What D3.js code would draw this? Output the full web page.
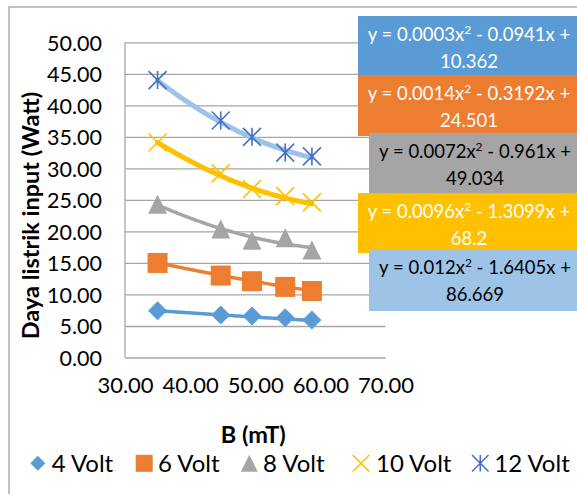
<!DOCTYPE html>
<html>
<head>
<meta charset="utf-8">
<script src="https://cdn.jsdelivr.net/npm/d3@7"></script>
<style>
  html, body { margin: 0; padding: 0; background: #fff; }
  svg { display: block; font-family: Lato, "Liberation Sans", sans-serif; }
</style>
</head>
<body>
<svg id="chart" width="577" height="494"></svg>
<script>
// ---------------- data ----------------
const bValues = [35.0, 44.7, 49.5, 54.6, 58.7];           // B (mT)
const volt4  = [7.42, 6.74, 6.58, 6.31, 5.95];
const volt6  = [15.0, 13.0, 12.1, 11.2, 10.55];
const volt8  = [24.3, 20.4, 18.6, 19.0, 17.05];
const volt10 = [34.1, 29.2, 26.7, 25.6, 24.6];
const volt12 = [44.0, 37.6, 35.0, 32.5, 31.9];
const seriesNames = ["4 Volt", "6 Volt", "8 Volt", "10 Volt", "12 Volt"];
const xTickValues = [30, 40, 50, 60, 70];
const yTickValues = [0, 5, 10, 15, 20, 25, 30, 35, 40, 45, 50];
// polynomial trendline coefficients [a, b, c] : y = a x^2 + b x + c
const trend4  = [0.0003, -0.0941, 10.362];
const trend6  = [0.0014, -0.3192, 24.501];
const trend8  = [0.0072, -0.961, 49.034];
const trend10 = [0.0096, -1.3099, 68.2];
const trend12 = [0.012, -1.6405, 86.669];
const eqPartA = ["y = 0.0003x", "y = 0.0014x", "y = 0.0072x", "y = 0.0096x", "y = 0.012x"];
const eqPartB = [" - 0.0941x +", " - 0.3192x +", " - 0.961x +", " - 1.3099x +", " - 1.6405x +"];
const eqLine2 = ["10.362", "24.501", "49.034", "68.2", "86.669"];

// ---------------- styles / layout ----------------
const seriesData = [volt4, volt6, volt8, volt10, volt12];
const trends = [trend4, trend6, trend8, trend10, trend12];
const markerColor = ["#5B9BD5", "#ED7D31", "#A5A5A5", "#FFC000", "#4472C4"];
const trendColor  = ["#5B9BD5", "#ED7D31", "#A5A5A5", "#FFC000", "#9DC3E6"];
const trendWidth  = [3.5, 3.5, 3.5, 5, 5];
const markerType  = ["diamond", "square", "triangle", "x", "star"];
const boxFill     = ["#5B9BD5", "#ED7D31", "#A5A5A5", "#FFC000", "#9DC3E6"];
const boxText     = ["#ffffff", "#ffffff", "#000000", "#ffffff", "#000000"];
const boxRect     = [[358, 16, 224, 59], [358, 75, 224, 61], [369, 133, 213, 60], [358, 193, 224, 60], [369, 249, 213, 62]];

const svg = d3.select("#chart");
const x = d3.scaleLinear().domain([30, 70]).range([125, 385.5]);
const y = d3.scaleLinear().domain([0, 50]).range([357.5, 42.3]);

// chart border
svg.append("rect").attr("x", 9).attr("y", 7).attr("width", 700).attr("height", 700)
  .attr("fill", "none").attr("stroke", "#AFAFAF").attr("stroke-width", 1.5);

// gridlines
const gGrid = svg.append("g")
  .attr("transform", `translate(${x.range()[0]},0)`)
  .call(d3.axisLeft(y).tickValues(yTickValues).tickSize(-(x.range()[1] - x.range()[0])).tickFormat(""));
gGrid.select(".domain").remove();
gGrid.selectAll(".tick line").attr("stroke", "#A6A6A6").attr("stroke-width", 1.3);

// left axis line
svg.append("line").attr("x1", x(30)).attr("x2", x(30)).attr("y1", y(50)).attr("y2", y(0))
  .attr("stroke", "#A6A6A6").attr("stroke-width", 1.3);

// y tick labels
const gY = svg.append("g").attr("transform", `translate(${x.range()[0]},0)`)
  .call(d3.axisLeft(y).tickValues(yTickValues).tickSize(0).tickPadding(23).tickFormat(d3.format(".2f")));
gY.select(".domain").remove();
gY.selectAll("text").attr("font-family", "Lato, sans-serif").attr("font-size", 21.5).attr("fill", "#000")
  .attr("dy", "0.36em");

// x tick labels
const gX = svg.append("g").attr("transform", `translate(0,${y(0)})`)
  .call(d3.axisBottom(x).tickValues(xTickValues).tickSize(0).tickPadding(20).tickFormat(d3.format(".2f")));
gX.select(".domain").remove();
gX.selectAll("text").attr("font-family", "Lato, sans-serif").attr("font-size", 22).attr("fill", "#000");

// axis titles
svg.append("text").attr("x", x(50) - 2).attr("y", 443).attr("text-anchor", "middle")
  .attr("font-size", 23.5).attr("font-weight", "bold").text("B (mT)");
svg.append("text").attr("transform", "translate(38.5,215.5) rotate(-90)").attr("text-anchor", "middle")
  .attr("font-size", 23.5).attr("font-weight", "bold").text("Daya listrik input (Watt)");

// marker path generator
function markerPath(type, s) {
  const h = s / 2;
  const p = d3.path();
  if (type === "diamond") { p.moveTo(0, -h); p.lineTo(h, 0); p.lineTo(0, h); p.lineTo(-h, 0); p.closePath(); }
  else if (type === "square") { p.rect(-h, -h, s, s); }
  else if (type === "triangle") { p.moveTo(0, -h); p.lineTo(h, h); p.lineTo(-h, h); p.closePath(); }
  else if (type === "x") { p.moveTo(-h, -h); p.lineTo(h, h); p.moveTo(h, -h); p.lineTo(-h, h); }
  else if (type === "star") { p.moveTo(-h, -h); p.lineTo(h, h); p.moveTo(h, -h); p.lineTo(-h, h); p.moveTo(0, -h); p.lineTo(0, h); }
  return p.toString();
}
function styleMarker(sel, i) {
  const t = markerType[i];
  if (t === "x" || t === "star") sel.attr("fill", "none").attr("stroke", markerColor[i]).attr("stroke-width", 1.6);
  else sel.attr("fill", markerColor[i]).attr("stroke", "none");
}

// trendlines
const line = d3.line().x(d => x(d[0])).y(d => y(d[1])).curve(d3.curveLinear);
trends.forEach((c, i) => {
  const x0 = d3.min(bValues), x1 = d3.max(bValues);
  const pts = d3.range(0, 101).map(k => { const xv = x0 + (x1 - x0) * k / 100; return [xv, c[0] * xv * xv + c[1] * xv + c[2]]; });
  svg.append("path").datum(pts).attr("d", line).attr("fill", "none")
    .attr("stroke", trendColor[i]).attr("stroke-width", trendWidth[i]).attr("stroke-linecap", "round");
});

// markers
const mSize = [19, 20, 19, 18, 18];
seriesData.forEach((vals, i) => {
  svg.append("g").selectAll("path").data(vals).join("path")
    .attr("transform", (d, k) => `translate(${x(bValues[k])},${y(d)})`)
    .attr("d", markerPath(markerType[i], mSize[i]))
    .call(styleMarker, i);
});

// equation label boxes
boxRect.forEach((r, i) => {
  svg.append("rect").attr("x", r[0]).attr("y", r[1]).attr("width", r[2]).attr("height", r[3]).attr("fill", boxFill[i]);
  const cx = r[0] + 111 + (r[0] > 360 ? -5 : 0);
  const t1 = svg.append("text").attr("x", cx).attr("y", r[1] + 24.5).attr("text-anchor", "middle")
    .attr("font-size", 18.5).attr("fill", boxText[i]);
  t1.append("tspan").text(eqPartA[i]);
  t1.append("tspan").attr("font-size", 12).attr("dy", -7).text("2");
  t1.append("tspan").attr("dy", 7).text(eqPartB[i]);
  svg.append("text").attr("x", cx).attr("y", r[1] + 51.5).attr("text-anchor", "middle")
    .attr("font-size", 18.5).attr("fill", boxText[i]).text(eqLine2[i]);
});

// legend
const legMarkX = [37.8, 144.2, 249.3, 361, 480.3];
const legTextX = [51.7, 158, 263, 376, 494.3];
const legSize = [15, 17, 17, 16.5, 16.5];
seriesNames.forEach((n, i) => {
  svg.append("path").attr("transform", `translate(${legMarkX[i]},463.3)`)
    .attr("d", markerPath(markerType[i], legSize[i])).call(styleMarker, i);
  svg.append("text").attr("x", legTextX[i]).attr("y", 471.7).attr("font-size", 24).attr("fill", "#000").text(n);
});
</script>
</body>
</html>
